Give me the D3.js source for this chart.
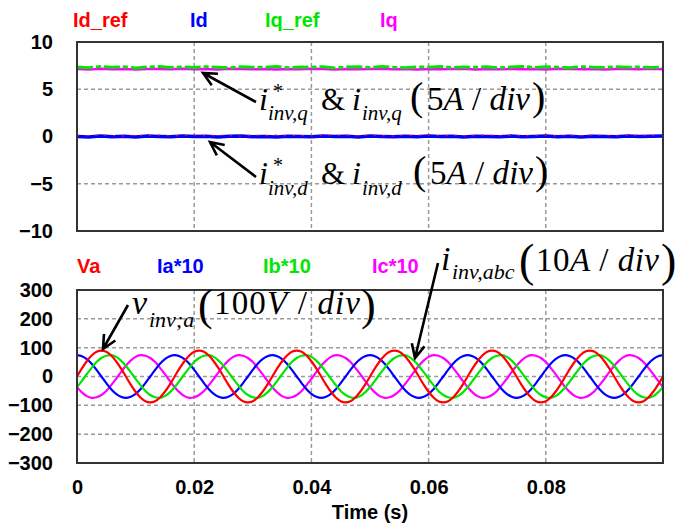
<!DOCTYPE html>
<html>
<head>
<meta charset="utf-8">
<script src="https://cdn.jsdelivr.net/npm/d3@7"></script>
<style>
  html, body { margin: 0; padding: 0; background: #fff; }
  svg { display: block; }
</style>
</head>
<body>
<svg id="chart" width="676" height="532"></svg>
<script>
// ---------------- DATA ----------------
const topLegend = ["Id_ref", "Id", "Iq_ref", "Iq"];
const bottomLegend = ["Va", "Ia*10", "Ib*10", "Ic*10"];
const topYTicks = [-10, -5, 0, 5, 10];
const bottomYTicks = [-300, -200, -100, 0, 100, 200, 300];
const xTicks = [0, 0.02, 0.04, 0.06, 0.08];
const xTickLabels = ["0", "0.02", "0.04", "0.06", "0.08"];
const xLabel = "Time (s)";

// top panel: sampled every 2 ms
const topStep = 0.002;
const idRef = [0.12,0.08,0.15,0.1,0.05,0.13,0.09,0.14,0.06,0.11,0.15,0.07,0.12,0.1,0.04,0.13,0.09,0.15,0.08,0.11,0.06,0.14,0.1,0.12,0.07,0.15,0.09,0.05,0.13,0.1,0.14,0.08,0.12,0.06,0.11,0.15,0.09,0.13,0.07,0.1,0.14,0.05,0.12,0.08,0.15,0.1,0.06,0.13,0.11,0.09,0.14];
const idVal = [0.01,-0.04,0.05,-0.02,0.03,-0.05,0.04,0.0,-0.03,0.05,-0.01,0.03,-0.04,0.02,0.05,-0.02,0.01,-0.04,0.03,0.0,-0.03,0.04,-0.01,0.02,-0.05,0.04,0.0,-0.02,0.03,-0.03,0.05,-0.01,0.02,-0.04,0.03,0.01,-0.02,0.04,-0.03,0.01,0.04,-0.02,0.02,-0.04,0.03,0.0,-0.03,0.05,-0.01,0.02,0.06];
const iqRef = [7.36,7.28,7.4,7.32,7.38,7.26,7.35,7.41,7.3,7.37,7.29,7.39,7.33,7.27,7.38,7.34,7.31,7.4,7.28,7.36,7.32,7.39,7.26,7.35,7.38,7.3,7.41,7.33,7.28,7.37,7.34,7.4,7.29,7.36,7.32,7.38,7.27,7.35,7.41,7.31,7.37,7.33,7.28,7.39,7.34,7.3,7.38,7.32,7.36,7.29,7.35];
const iqVal = [7.13,7.1,7.16,7.12,7.14,7.09,7.15,7.13,7.11,7.17,7.12,7.14,7.1,7.16,7.13,7.11,7.15,7.09,7.14,7.12,7.16,7.13,7.1,7.15,7.11,7.14,7.17,7.12,7.13,7.09,7.15,7.11,7.14,7.16,7.1,7.13,7.12,7.15,7.11,7.14,7.09,7.16,7.13,7.12,7.15,7.1,7.14,7.13,7.11,7.16,7.12];

// bottom panel: sampled every 1/1200 s
const bottomStep = 1 / 1200;
const va = [0,28,53,73,86,90,86,73,53,28,0,-28,-53,-73,-86,-90,-86,-73,-53,-28,
            0,28,53,73,86,90,86,73,53,28,0,-28,-53,-73,-86,-90,-86,-73,-53,-28,
            0,28,53,73,86,90,86,73,53,28,0,-28,-53,-73,-86,-90,-86,-73,-53,-28,
            0,28,53,73,86,90,86,73,53,28,0,-28,-53,-73,-86,-90,-86,-73,-53,-28,
            0,28,53,73,86,90,86,73,53,28,0,-28,-53,-73,-86,-90,-86,-73,-53,-28,
            0,28,53,73,86,90,86,73,53,28,0,-28,-53,-73,-86,-90,-86,-73,-53,-28,0];
const ia = [74,70,60,44,23,0,-23,-44,-60,-70,-74,-70,-60,-44,-23,0,23,44,60,70,
            74,70,60,44,23,0,-23,-44,-60,-70,-74,-70,-60,-44,-23,0,23,44,60,70,
            74,70,60,44,23,0,-23,-44,-60,-70,-74,-70,-60,-44,-23,0,23,44,60,70,
            74,70,60,44,23,0,-23,-44,-60,-70,-74,-70,-60,-44,-23,0,23,44,60,70,
            74,70,60,44,23,0,-23,-44,-60,-70,-74,-70,-60,-44,-23,0,23,44,60,70,
            74,70,60,44,23,0,-23,-44,-60,-70,-74,-70,-60,-44,-23,0,23,44,60,70,74];
const ib = [-37,-15,8,30,50,64,72,74,68,55,37,15,-8,-30,-50,-64,-72,-74,-68,-55,
            -37,-15,8,30,50,64,72,74,68,55,37,15,-8,-30,-50,-64,-72,-74,-68,-55,
            -37,-15,8,30,50,64,72,74,68,55,37,15,-8,-30,-50,-64,-72,-74,-68,-55,
            -37,-15,8,30,50,64,72,74,68,55,37,15,-8,-30,-50,-64,-72,-74,-68,-55,
            -37,-15,8,30,50,64,72,74,68,55,37,15,-8,-30,-50,-64,-72,-74,-68,-55,
            -37,-15,8,30,50,64,72,74,68,55,37,15,-8,-30,-50,-64,-72,-74,-68,-55,-37];
const ic = [-37,-55,-68,-74,-72,-64,-50,-30,-8,15,37,55,68,74,72,64,50,30,8,-15,
            -37,-55,-68,-74,-72,-64,-50,-30,-8,15,37,55,68,74,72,64,50,30,8,-15,
            -37,-55,-68,-74,-72,-64,-50,-30,-8,15,37,55,68,74,72,64,50,30,8,-15,
            -37,-55,-68,-74,-72,-64,-50,-30,-8,15,37,55,68,74,72,64,50,30,8,-15,
            -37,-55,-68,-74,-72,-64,-50,-30,-8,15,37,55,68,74,72,64,50,30,8,-15,
            -37,-55,-68,-74,-72,-64,-50,-30,-8,15,37,55,68,74,72,64,50,30,8,-15,-37];

// ---------------- LAYOUT ----------------
const RED = "#ff0000", BLUE = "#0000ff", GREEN = "#00e600", MAG = "#ff00ff";
const svg = d3.select("#chart");
const x = d3.scaleLinear().domain([0, 0.1]).range([77, 663]);
const yTop = d3.scaleLinear().domain([-10, 10]).range([231, 42]);
const yBot = d3.scaleLinear().domain([-300, 300]).range([463, 290]);
const sansBold = "'Liberation Sans', Arial, sans-serif";
const serif = "'Liberation Serif', 'Times New Roman', serif";

function panel(y, yTicks, gridVals) {
  const g = svg.append("g");
  g.selectAll(".hg").data(gridVals).join("line")
    .attr("x1", x(0)).attr("x2", x(0.1))
    .attr("y1", d => y(d)).attr("y2", d => y(d))
    .attr("stroke", "#9a9a9a").attr("stroke-width", 1.5).attr("stroke-dasharray", "4,3");
  g.selectAll(".vg").data(xTicks.slice(1)).join("line")
    .attr("x1", d => x(d)).attr("x2", d => x(d))
    .attr("y1", y.range()[1]).attr("y2", y.range()[0])
    .attr("stroke", "#9a9a9a").attr("stroke-width", 1.5).attr("stroke-dasharray", "4,3");
  const ax = d3.axisLeft(y).tickValues(yTicks).tickSize(0).tickPadding(24).tickFormat(d3.format("d"));
  const axg = g.append("g").attr("transform", `translate(${x(0)},0)`).call(ax);
  axg.select(".domain").remove();
  axg.selectAll("text").attr("font-family", sansBold).attr("font-weight", "bold")
    .attr("font-size", 20).attr("fill", "#000");
  return g;
}
function frame(y) {
  svg.append("rect").attr("x", x(0)).attr("y", y.range()[1])
    .attr("width", x(0.1) - x(0)).attr("height", y.range()[0] - y.range()[1])
    .attr("fill", "none").attr("stroke", "#333").attr("stroke-width", 2);
}

// ---------- top panel ----------
panel(yTop, topYTicks, [-5, 0, 5]);
svg.append("clipPath").attr("id", "ct").append("rect")
  .attr("x", x(0)).attr("y", yTop(10)).attr("width", x(0.1) - x(0)).attr("height", yTop(-10) - yTop(10));
const lineTop = d3.line().x((d, i) => x(i * topStep)).y(d => yTop(d));
const gt = svg.append("g").attr("clip-path", "url(#ct)");
gt.append("path").attr("d", lineTop(iqVal)).attr("fill", "none").attr("stroke", MAG).attr("stroke-width", 2.5);
gt.append("path").attr("d", lineTop(iqRef)).attr("fill", "none").attr("stroke", GREEN).attr("stroke-width", 3)
  .attr("stroke-dasharray", "16,3,5,3");
gt.append("path").attr("d", lineTop(idVal)).attr("fill", "none").attr("stroke", BLUE).attr("stroke-width", 3.5);
gt.append("path").attr("d", lineTop(idRef)).attr("fill", "none").attr("stroke", RED).attr("stroke-width", 1.3)
  .attr("stroke-dasharray", "2,7");
frame(yTop);

// ---------- bottom panel ----------
panel(yBot, bottomYTicks, [-200, -100, 0, 100, 200]);
svg.append("clipPath").attr("id", "cb").append("rect")
  .attr("x", x(0)).attr("y", yBot(300)).attr("width", x(0.1) - x(0)).attr("height", yBot(-300) - yBot(300));
const lineBot = d3.line().x((d, i) => x(i * bottomStep)).y(d => yBot(d)).curve(d3.curveCatmullRom);
const gb = svg.append("g").attr("clip-path", "url(#cb)");
[[ic, MAG], [ia, BLUE], [ib, GREEN], [va, RED]].forEach(([s, c]) => {
  gb.append("path").attr("d", lineBot(s)).attr("fill", "none").attr("stroke", c).attr("stroke-width", 2.2);
});
frame(yBot);

// x axis labels
const xa = d3.axisBottom(x).tickValues(xTicks).tickSize(0).tickPadding(17)
  .tickFormat((d, i) => xTickLabels[i]);
const xag = svg.append("g").attr("transform", `translate(0,${yBot(-300)})`).call(xa);
xag.select(".domain").remove();
xag.selectAll("text").attr("font-family", sansBold).attr("font-weight", "bold")
  .attr("font-size", 20).attr("fill", "#000");
svg.append("text").attr("x", (x(0) + x(0.1)) / 2).attr("y", 519).attr("text-anchor", "middle")
  .attr("font-family", sansBold).attr("font-weight", "bold").attr("font-size", 20).text(xLabel);

// legends
const topLegendX = [73, 190, 265, 380];
const botLegendX = [77, 157, 263, 372];
const legendColors = [RED, BLUE, GREEN, MAG];
topLegend.forEach((t, i) => svg.append("text").attr("x", topLegendX[i]).attr("y", 27)
  .attr("font-family", sansBold).attr("font-weight", "bold").attr("font-size", 20)
  .attr("fill", legendColors[i]).text(t));
bottomLegend.forEach((t, i) => svg.append("text").attr("x", botLegendX[i]).attr("y", 273)
  .attr("font-family", sansBold).attr("font-weight", "bold").attr("font-size", 20)
  .attr("fill", legendColors[i]).text(t));

// ---------- annotations ----------
function piece(px, py, str, size, italic) {
  return svg.append("text").attr("x", px).attr("y", py).attr("font-family", serif)
    .attr("font-size", size).attr("font-style", italic ? "italic" : "normal").attr("fill", "#000").text(str);
}
// "( inner )" as a single text element; inner part stretched to [x1, x2]
function parenGroup(xo, yp, ps, x1, x2, yi, is, parts, xc) {
  const t = svg.append("text").attr("font-family", serif).attr("fill", "#000");
  t.append("tspan").attr("x", xo).attr("y", yp).attr("font-size", ps).text("(");
  const spans = parts.map(([s, it], k) => {
    const sp = t.append("tspan").attr("font-size", is).attr("font-style", it ? "italic" : "normal").text(s);
    if (k === 0) sp.attr("x", x1).attr("y", yi);
    return sp;
  });
  t.append("tspan").attr("x", xc).attr("y", yp).attr("font-size", ps).text(")");
  let nat = 0, n = 0;
  spans.forEach(sp => { nat += sp.node().getComputedTextLength(); n += sp.text().length; });
  const ls = (x2 - x1 - nat) / Math.max(1, n - 1);
  spans.forEach(sp => sp.attr("letter-spacing", ls));
}
function arrow(x1, y1, x2, y2) {
  const a = Math.atan2(y2 - y1, x2 - x1), L = 15, w = 0.45;
  const p = d3.path();
  p.moveTo(x1, y1); p.lineTo(x2, y2);
  p.moveTo(x2 - L * Math.cos(a - w), y2 - L * Math.sin(a - w));
  p.lineTo(x2, y2);
  p.lineTo(x2 - L * Math.cos(a + w), y2 - L * Math.sin(a + w));
  svg.append("path").attr("d", p.toString()).attr("fill", "none").attr("stroke", "#000")
    .attr("stroke-width", 2.6).attr("stroke-linejoin", "miter");
}
const divParts = n => [[n, false], ["A", true], [" / ", false], ["div", true]];

// i*_{inv,q} & i_{inv,q} (5A/div)
piece(259, 110, "i", 32, true);
piece(273, 98, "*", 20, false);
piece(268, 120, "inv,q", 21, true);
piece(321, 110, "&", 31, false);
piece(352, 110, "i", 32, true);
piece(362, 120, "inv,q", 21, true);
parenGroup(410, 110, 40, 427, 530, 110, 33, divParts("5"), 532);
arrow(256, 102, 203, 73);

// i*_{inv,d} & i_{inv,d} (5A/div)
piece(259, 184, "i", 32, true);
piece(273, 172, "*", 20, false);
piece(268, 195, "inv,d", 21, true);
piece(321, 184, "&", 31, false);
piece(352, 184, "i", 32, true);
piece(362, 195, "inv,d", 21, true);
parenGroup(413, 184, 40, 430, 533, 184, 33, divParts("5"), 535);
arrow(256, 177, 210, 142);

// v_{inv;a} (100V/div)
piece(132, 314, "v", 34, true);
piece(149, 327, "inv;a", 22, true);
parenGroup(198, 320, 44, 214, 360, 314, 33, [["100", false], ["V", true], [" / ", false], ["div", true]], 361);
arrow(128, 305, 103, 349);

// i_{inv,abc} (10A/div)
piece(441, 270, "i", 34, true);
piece(452, 279, "inv,abc", 22, true);
parenGroup(519, 276, 46, 536, 659, 271, 33, divParts("10"), 661);
arrow(438, 263, 415, 358);
</script>
</body>
</html>
